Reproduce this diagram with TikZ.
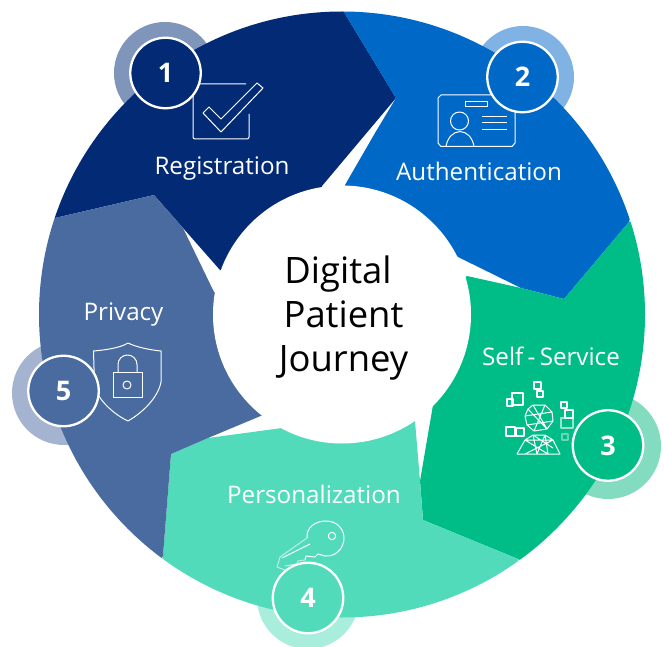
\documentclass[tikz,border=0pt]{standalone}
\usepackage{fontspec}
\setmainfont{Open Sans}
\definecolor{cnavy}{HTML}{032B75}
\definecolor{cblue}{HTML}{0069C8}
\definecolor{cgreen}{HTML}{00BD87}
\definecolor{cmint}{HTML}{52DBBB}
\definecolor{cslate}{HTML}{4A6BA0}
\definecolor{hnavy}{HTML}{7F95B9}
\definecolor{hblue}{HTML}{80B3E3}
\definecolor{hgreen}{HTML}{84DCC0}
\definecolor{hmint}{HTML}{A9EDDD}
\definecolor{hslate}{HTML}{A4B3CF}
\tikzset{
  badge/.style={circle,draw=white,line width=2.3pt,minimum size=70.5pt,inner sep=0pt,text=white,font=\fontsize{27}{30}\selectfont\bfseries},
  halo/.style={circle,minimum size=102pt,inner sep=0pt},
  lab/.style={text=white,inner sep=0pt,anchor=base,font=\fontsize{24.2}{28}\selectfont},
  ico/.style={draw=white,line width=1pt,line join=round},
}
\begin{document}
\begin{tikzpicture}[x=1pt,y=-1pt]
\useasboundingbox (0,0) rectangle (664,647);
% halos
\begin{scope}
\clip (0,0) rectangle (664,647);
\node[halo,fill=hnavy] (h1) at (165,73) {};
\node[halo,fill=hblue] (h2) at (523,77) {};
\node[halo,fill=hgreen,minimum size=106pt] (h3) at (608,446) {};
\node[halo,fill=hmint] (h4) at (308,598) {};
\node[halo,fill=hslate,minimum size=104pt] (h5) at (64,393) {};
\end{scope}
% ring segments
\begin{scope}
\clip (342,314.5) circle[radius=303];
\fill[cnavy] (55,218) -- (0,100) -- (344,-50) -- (344,12) -- (396,98) -- (322,186) -- (300,300) -- (220,270) -- (154,195) -- cycle;
\fill[cblue] (344,12) -- (344,-50) -- (664,100) -- (629,222) -- (564,299) -- (521,288) -- (456,256) -- (400,300) -- (345,185) -- (375,133) -- (396,98) -- cycle;
\fill[cgreen] (629,222) -- (680,200) -- (680,647) -- (518,559) -- (423,520) -- (420,481) -- (433,405) -- (400,340) -- (467,276) -- (521,288) -- (564,299) -- cycle;
\fill[cmint] (518,559) -- (560,660) -- (130,660) -- (163,556) -- (171,454) -- (208,438) -- (282,428) -- (340,350) -- (415,421) -- (420,481) -- (423,520) -- cycle;
\fill[cslate] (163,556) -- (100,660) -- (-10,400) -- (0,200) -- (55,218) -- (154,195) -- (183,228) -- (214,292) -- (300,340) -- (263,415) -- (208,438) -- (171,454) -- cycle;
\end{scope}
\fill[white] (342,314.5) circle[radius=129];
% title
\node[align=center,inner sep=0pt,text=black,font=\fontsize{36.4}{44}\selectfont] (title) at (343.5,318) {Digital\hspace*{11pt}\\Patient\\Journey};
% labels
\node[lab] (l1) at (222,175) {Registration};
\node[lab] (l2) at (479,180.7) {Authentication};
\node[lab] (l3) at (551,365.3) {Self\hspace{4.3pt}-\hspace{4.3pt}Service};
\node[lab] (l4) at (314,503.5) {Personalization};
\node[lab] (l5) at (123.5,320.3) {Privacy};
% icon 1: check box
\draw[ico,rounded corners=2pt] (246,84) -- (193,84) -- (193,139) -- (249,139) -- (249,114);
\draw[ico] (203,113) -- (221,132) -- (263,88) -- (257,83) -- (221,119) -- (209,107) -- cycle;
% icon 2: id card
\draw[ico] (441,95) -- (512,95) -- (515,98) -- (515,143) -- (512,146.5) -- (441,146.5) -- (438,143) -- (438,98) -- cycle;
\draw[ico] (465,102) rectangle (487,107);
\draw[ico] (459.5,121) circle[radius=9];
\draw[ico] (446,146) .. controls (448,137) and (453,132) .. (460,131.5) .. controls (467,132) and (472,137) .. (474,146);
\draw[ico] (482,117) -- (507,117) (482,123) -- (507,123) (482,129.5) -- (507,129.5);
% icon 3: mesh person
\draw[ico,line width=1.1pt] (512,393) rectangle (523,405) (507,399) rectangle (513,406) (534,382) rectangle (541,389) (537,391) rectangle (543,397) (561,402) rectangle (567,408) (565,410) rectangle (573,418) (506,427) rectangle (515,436) (516,428) rectangle (524,436);
\draw[ico,line width=1.1pt,opacity=.6] (561,418) rectangle (573,428);
\draw[ico,line width=1.1pt,opacity=.4] (562,434) rectangle (568,440);
\draw[ico] (533,405) -- (545,405) -- (552,412) -- (553,421) -- (547,429) -- (534,431) -- (527,425) -- (525,416) -- (528,409) -- cycle
 (533,405) -- (547,429) (545,405) -- (534,431) (525,416) -- (552,412) (527,425) -- (553,421) (528,409) -- (547,429);
\draw[ico] (517,454) -- (560,454) -- (553,440) -- (545,435) -- (533,435) -- (525,440) -- cycle
 (533,435) -- (537,454) (545,435) -- (537,454) (545,435) -- (548,454) (525,440) -- (548,454) (553,440) -- (525,454) (525,440) -- (553,440) (533,435) -- (553,448);
% icon 4: key
\draw[ico] (307,538) .. controls (306,527) and (316,521) .. (326,521) .. controls (337,521) and (344,529) .. (344,538) .. controls (344,549) and (335,557) .. (325,556) -- (318,554) -- (315,557) -- (306,556) -- (305,560);
\draw[ico,opacity=.6] (305,560) -- (298,561) -- (297,564) -- (285,566) (307,538) -- (280,557) -- (277,567) -- (285,570);
\draw[ico] (310,544) -- (282,558);
\draw[ico] (332,536) circle[radius=3.7];
% icon 5: shield
\draw[ico] (128,343) .. controls (120,348) and (105,350) .. (93.5,351) -- (94.5,385) .. controls (97,400) and (115,415) .. (128,421) .. controls (142,413) and (158,398) .. (161,382) -- (161,351) .. controls (150,350) and (136,347) .. (128,343) -- cycle;
\draw[ico] (113,372) rectangle (142,397);
\draw[ico] (118,372) -- (118,364.5) arc[start angle=180,end angle=360,radius=9.5] -- (137,372);
\draw[ico] (127,385) circle[radius=4];
% badges
\node[badge,fill=cnavy] (b1) at (165.5,73) {1};
\node[badge,fill=cblue] (b2) at (522.5,77) {2};
\node[badge,fill=cgreen] (b3) at (608,445.5) {3};
\node[badge,fill=cmint] (b4) at (308,598) {4};
\node[badge,fill=cslate] (b5) at (63.5,391) {5};
\end{tikzpicture}
\end{document}
